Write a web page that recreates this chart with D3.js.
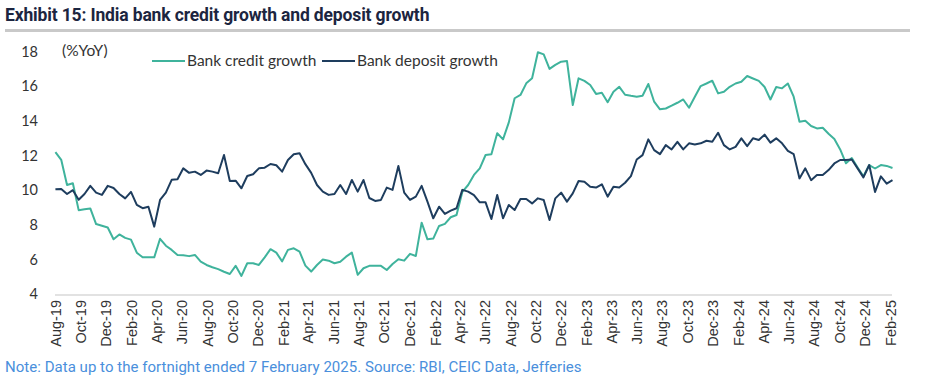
<!DOCTYPE html>
<html>
<head>
<meta charset="utf-8">
<script src="https://cdn.jsdelivr.net/npm/d3@7"></script>
<style>
  html, body { margin: 0; padding: 0; background: #fff; }
  svg { display: block; }
</style>
</head>
<body>
<svg id="chart" width="925" height="379"></svg>
<script>
// ---------------- DATA ----------------
const fortnightDates = [
  "2019-08-02","2019-08-16","2019-08-30","2019-09-13","2019-09-27","2019-10-11","2019-10-25","2019-11-08","2019-11-22","2019-12-06","2019-12-20",
  "2020-01-03","2020-01-17","2020-01-31","2020-02-14","2020-02-28","2020-03-13","2020-03-27","2020-04-10","2020-04-24","2020-05-08","2020-05-22","2020-06-05","2020-06-19","2020-07-03","2020-07-17","2020-07-31","2020-08-14","2020-08-28","2020-09-11","2020-09-25","2020-10-09","2020-10-23","2020-11-06","2020-11-20","2020-12-04","2020-12-18",
  "2021-01-01","2021-01-15","2021-01-29","2021-02-12","2021-02-26","2021-03-12","2021-03-26","2021-04-09","2021-04-23","2021-05-07","2021-05-21","2021-06-04","2021-06-18","2021-07-02","2021-07-16","2021-07-30","2021-08-13","2021-08-27","2021-09-10","2021-09-24","2021-10-08","2021-10-22","2021-11-05","2021-11-19","2021-12-03","2021-12-17","2021-12-31",
  "2022-01-14","2022-01-28","2022-02-11","2022-02-25","2022-03-11","2022-03-25","2022-04-08","2022-04-22","2022-05-06","2022-05-20","2022-06-03","2022-06-17","2022-07-01","2022-07-15","2022-07-29","2022-08-12","2022-08-26","2022-09-09","2022-09-23","2022-10-07","2022-10-21","2022-11-04","2022-11-18","2022-12-02","2022-12-16","2022-12-30",
  "2023-01-13","2023-01-27","2023-02-10","2023-02-24","2023-03-10","2023-03-24","2023-04-07","2023-04-21","2023-05-05","2023-05-19","2023-06-02","2023-06-16","2023-06-30","2023-07-14","2023-07-28","2023-08-11","2023-08-25","2023-09-08","2023-09-22","2023-10-06","2023-10-20","2023-11-03","2023-11-17","2023-12-01","2023-12-15","2023-12-29",
  "2024-01-12","2024-01-26","2024-02-09","2024-02-23","2024-03-08","2024-03-22","2024-04-05","2024-04-19","2024-05-03","2024-05-17","2024-05-31","2024-06-14","2024-06-28","2024-07-12","2024-07-26","2024-08-09","2024-08-23","2024-09-06","2024-09-20","2024-10-04","2024-10-18","2024-11-01","2024-11-15","2024-11-29","2024-12-13","2024-12-27",
  "2025-01-10","2025-01-24","2025-02-07"
];

const creditGrowth = [
  12.2,11.75,10.3,10.4,8.85,8.9,8.95,8.05,7.95,7.85,
  7.17,7.45,7.25,7.15,6.4,6.13,6.13,6.13,7.2,6.8,
  6.56,6.27,6.25,6.2,6.27,5.88,5.69,5.56,5.45,5.3,
  5.17,5.64,5.06,5.79,5.79,5.69,6.13,6.6,6.4,5.9,
  6.56,6.65,6.46,5.65,5.31,5.69,6.0,5.94,5.79,5.88,
  6.17,6.4,5.12,5.5,5.64,5.64,5.64,5.4,5.75,6.02,
  5.94,6.33,6.21,8.13,7.17,7.21,7.94,8.06,8.44,8.57,
  9.9,10.3,10.88,11.26,12.03,12.07,13.28,12.93,13.91,15.3,
  15.49,16.16,16.45,17.95,17.83,16.99,17.22,17.41,17.45,14.91,
  16.45,16.3,16.06,15.55,15.62,15.07,15.67,15.96,15.5,15.44,
  15.39,15.44,16.12,15.1,14.66,14.71,14.87,15.04,15.23,14.75,
  15.39,16.0,16.15,16.31,15.58,15.67,15.96,16.15,16.25,16.58,
  16.44,16.3,15.95,15.23,15.95,15.87,16.15,15.39,13.95,14.0,
  13.7,13.56,13.6,13.25,12.95,12.35,11.55,11.85,11.3,10.8,
  11.45,11.25,11.45,11.4,11.28
];

const depositGrowth = [
  10.05,10.07,9.78,10.0,9.45,9.78,10.25,9.86,9.73,10.25,
  10.13,9.78,9.53,9.9,9.15,8.96,9.05,7.9,9.44,9.86,
  10.6,10.63,11.26,11.0,11.07,10.88,11.13,11.07,10.98,12.03,
  10.53,10.55,10.11,10.82,10.92,11.26,11.3,11.51,11.44,11.07,
  11.74,12.07,12.13,11.5,11.0,10.3,9.92,9.73,9.78,10.3,
  9.78,10.59,9.92,10.59,9.55,9.38,9.44,10.15,10.02,11.4,
  9.86,9.44,9.63,10.25,9.34,8.38,9.05,8.63,8.82,8.96,
  10.02,9.92,9.72,9.3,9.3,8.34,9.72,8.38,9.15,8.86,
  9.49,9.49,9.24,9.53,9.44,8.28,9.53,9.86,9.34,9.82,
  10.53,10.49,10.2,10.15,10.34,9.63,10.2,10.16,10.43,10.81,
  11.77,12.02,12.93,12.31,12.08,12.6,12.35,12.79,12.35,12.7,
  12.64,12.7,12.85,12.79,13.31,12.6,12.35,12.5,12.99,12.54,
  12.99,12.89,13.2,12.74,12.99,12.7,12.27,12.08,10.68,11.26,
  10.58,10.87,10.87,11.16,11.54,11.74,11.74,11.77,11.26,10.74,
  11.45,9.9,10.8,10.38,10.58
];

const xTickLabels = [
  "Aug-19","Oct-19","Dec-19","Feb-20","Apr-20","Jun-20","Aug-20","Oct-20","Dec-20",
  "Feb-21","Apr-21","Jun-21","Aug-21","Oct-21","Dec-21","Feb-22","Apr-22","Jun-22",
  "Aug-22","Oct-22","Dec-22","Feb-23","Apr-23","Jun-23","Aug-23","Oct-23","Dec-23",
  "Feb-24","Apr-24","Jun-24","Aug-24","Oct-24","Dec-24","Feb-25"
];
const yTicks = [4, 6, 8, 10, 12, 14, 16, 18];

const seriesNames = ["Bank credit growth", "Bank deposit growth"];
const titleText = "Exhibit 15: India bank credit growth and deposit growth";
const unitText = "(%YoY)";
const noteText = "Note: Data up to the fortnight ended 7 February 2025. Source: RBI, CEIC Data, Jefferies";

// ---------------- STYLE ----------------
const colors = { credit: "#3fb39c", deposit: "#1e3d5e" };

// ---------------- CHART ----------------
const svg = d3.select("#chart");
const parseDay = d3.timeParse("%Y-%m-%d");
const parseTick = d3.timeParse("%b-%y");
const dates = fortnightDates.map(parseDay);

const x = d3.scaleTime()
  .domain([parseTick(xTickLabels[0]), parseTick(xTickLabels[xTickLabels.length - 1])])
  .range([55, 890]);
const y = d3.scaleLinear().domain([4, 18]).range([294.3, 51.4]);

// Title
svg.append("text")
  .attr("x", 5).attr("y", 21)
  .attr("font-family", "Roboto, sans-serif")
  .attr("font-weight", 700)
  .attr("font-size", 17.5)
  .attr("fill", "#1c2540")
  .attr("letter-spacing", -0.15)
  .text(titleText);
svg.append("rect")
  .attr("x", 5).attr("y", 29).attr("width", 905).attr("height", 3)
  .attr("fill", "#c9c9c9");

// Y axis (labels only)
const yAxis = d3.axisLeft(y).tickValues(yTicks).tickSize(0).tickPadding(0).tickFormat(d3.format("d"));
const gy = svg.append("g").attr("transform", "translate(38,0)").call(yAxis);
gy.select(".domain").remove();
gy.selectAll("text")
  .attr("font-family", "Lato, sans-serif")
  .attr("font-size", 14.5)
  .attr("fill", "#333");

// X axis
const xAxis = d3.axisBottom(x)
  .tickValues(xTickLabels.map(parseTick))
  .tickSize(0)
  .tickFormat(d3.timeFormat("%b-%y"));
const gx = svg.append("g").attr("transform", "translate(0,295)").call(xAxis);
gx.select(".domain").attr("stroke", "#d9d9d9").attr("stroke-width", 1.5)
  .attr("d", "M55,0H892");
gx.selectAll("text")
  .attr("font-family", "'Liberation Sans', Arial, sans-serif")
  .attr("font-size", 14.5)
  .attr("fill", "#333")
  .attr("text-anchor", "end")
  .attr("dy", "0.35em")
  .attr("transform", "translate(0,5) rotate(-90)")
  .attr("x", 0).attr("y", 0);

// Lines
const line = d3.line().x((d, i) => x(dates[i])).y(d => y(d));
svg.append("path").datum(creditGrowth)
  .attr("fill", "none").attr("stroke", colors.credit).attr("stroke-width", 2)
  .attr("stroke-linejoin", "round").attr("d", line);
svg.append("path").datum(depositGrowth)
  .attr("fill", "none").attr("stroke", colors.deposit).attr("stroke-width", 2)
  .attr("stroke-linejoin", "round").attr("d", line);

// Unit label
svg.append("text").attr("x", 62).attr("y", 56)
  .attr("font-family", "Lato, sans-serif").attr("font-size", 15.5).attr("fill", "#333")
  .text(unitText);

// Legend
const legend = [
  { name: seriesNames[0], color: colors.credit, x0: 152 },
  { name: seriesNames[1], color: colors.deposit, x0: 322 }
];
legend.forEach(l => {
  svg.append("line").attr("x1", l.x0).attr("x2", l.x0 + 33).attr("y1", 61).attr("y2", 61)
    .attr("stroke", l.color).attr("stroke-width", 2);
  svg.append("text").attr("x", l.x0 + 35).attr("y", 66)
    .attr("font-family", "Lato, sans-serif").attr("font-size", 15.5).attr("fill", "#333")
    .text(l.name);
});

// Note
svg.append("text").attr("x", 5).attr("y", 372)
  .attr("font-family", "Roboto, sans-serif").attr("font-size", 15)
  .attr("fill", "#4a8fdc").attr("letter-spacing", 0.03)
  .text(noteText);
</script>
</body>
</html>
